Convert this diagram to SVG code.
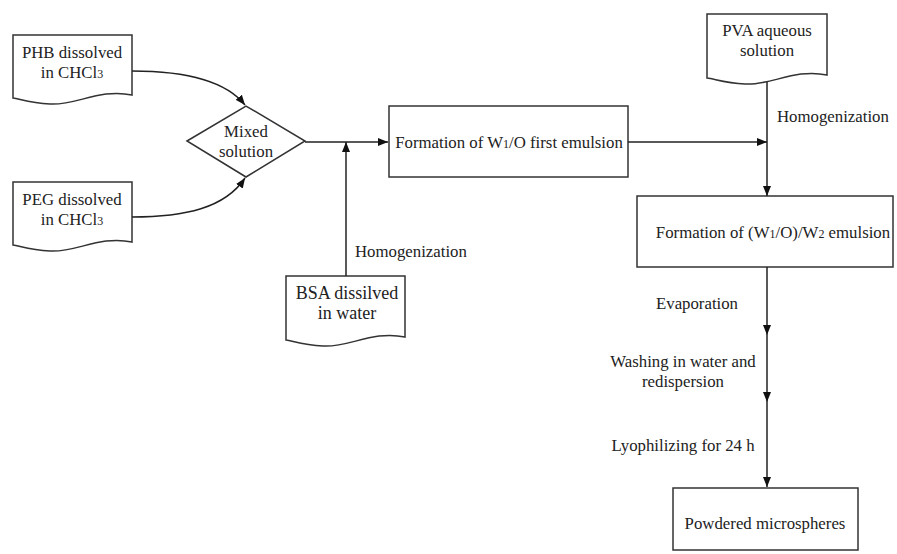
<svg xmlns="http://www.w3.org/2000/svg" width="897" height="554" viewBox="0 0 897 554">
<style>
.s{fill:#fff;stroke:#333;stroke-width:1.5}
.c{fill:none;stroke:#222;stroke-width:1.5}
text{font-family:"Liberation Serif","Times New Roman",serif;font-size:16.8px;fill:#222}
.m{text-anchor:middle}
.b{font-size:18px}
.sub{font-size:12px}
</style>
<defs>
<marker id="a" viewBox="0 0 10 8" refX="10" refY="4" markerWidth="10" markerHeight="8" markerUnits="userSpaceOnUse" orient="auto">
<path d="M0,0 L10,4 L0,8 Z" fill="#111"/>
</marker>
</defs>
<rect width="897" height="554" fill="#fff"/>
<g id="phb">
<path class="s" d="M13,35 H132 V95 C100,88 75,106 50,104 C30,103 20,99 13,98 Z"/>
<text class="m" x="72" y="58">PHB dissolved</text>
<text class="m" x="72" y="78">in CHCl<tspan class="sub">3</tspan></text>
</g>
<g id="peg">
<path class="s" d="M13,182 H132 V242 C100,235 75,253 50,251 C30,250 20,246 13,245 Z"/>
<text class="m" x="72" y="205">PEG dissolved</text>
<text class="m" x="72" y="225">in CHCl<tspan class="sub">3</tspan></text>
</g>
<g id="mixed">
<path class="s" d="M187,141 L246,106 L305,141 L246,177 Z"/>
<text class="m" x="246" y="137">Mixed</text>
<text class="m" x="246" y="157">solution</text>
</g>
<g id="bsa">
<path class="s" d="M286,276 H405 V337 C373,330 348,348 323,346 C303,345 293,341 286,340 Z"/>
<text class="m b" x="347" y="299">BSA dissilved</text>
<text class="m b" x="347" y="319">in water</text>
</g>
<g id="w1o">
<rect class="s" x="389" y="106" width="239" height="71"/>
<text class="m" x="509" y="148">Formation of W<tspan class="sub">1</tspan>/O first emulsion</text>
</g>
<g id="pva">
<path class="s" d="M707,14 H827 V75 C795,68 770,86 745,84 C725,83 715,79 707,78 Z"/>
<text class="m" x="767" y="36">PVA aqueous</text>
<text class="m" x="767" y="56">solution</text>
</g>
<g id="w1ow2">
<rect class="s" x="637" y="196" width="256" height="71"/>
<text class="m" x="773" y="238">Formation of (W<tspan class="sub">1</tspan>/O)/W<tspan class="sub">2</tspan> emulsion</text>
</g>
<g id="powder">
<rect class="s" x="673" y="488" width="185" height="62"/>
<text class="m" x="765" y="529">Powdered microspheres</text>
</g>
<g id="connectors">
<path class="c" d="M132,71 C185,71 225,80 245,105" marker-end="url(#a)"/>
<path class="c" d="M132,217 C185,217 225,208 245,178" marker-end="url(#a)"/>
<path class="c" d="M305,142 H388" marker-end="url(#a)"/>
<path class="c" d="M346,276 V142" marker-end="url(#a)"/>
<path class="c" d="M628,142 H767" marker-end="url(#a)"/>
<path class="c" d="M767,82 V196" marker-end="url(#a)"/>
<path class="c" d="M767,267 V335" marker-end="url(#a)"/>
<path class="c" d="M767,335 V402" marker-end="url(#a)"/>
<path class="c" d="M767,402 V487" marker-end="url(#a)"/>
</g>
<g id="labels">
<text x="355" y="257">Homogenization</text>
<text x="777" y="122">Homogenization</text>
<text class="m" x="697" y="309">Evaporation</text>
<text class="m" x="683" y="367">Washing in water and</text>
<text class="m" x="683" y="387">redispersion</text>
<text class="m" x="683" y="451">Lyophilizing for 24 h</text>
</g>
</svg>
